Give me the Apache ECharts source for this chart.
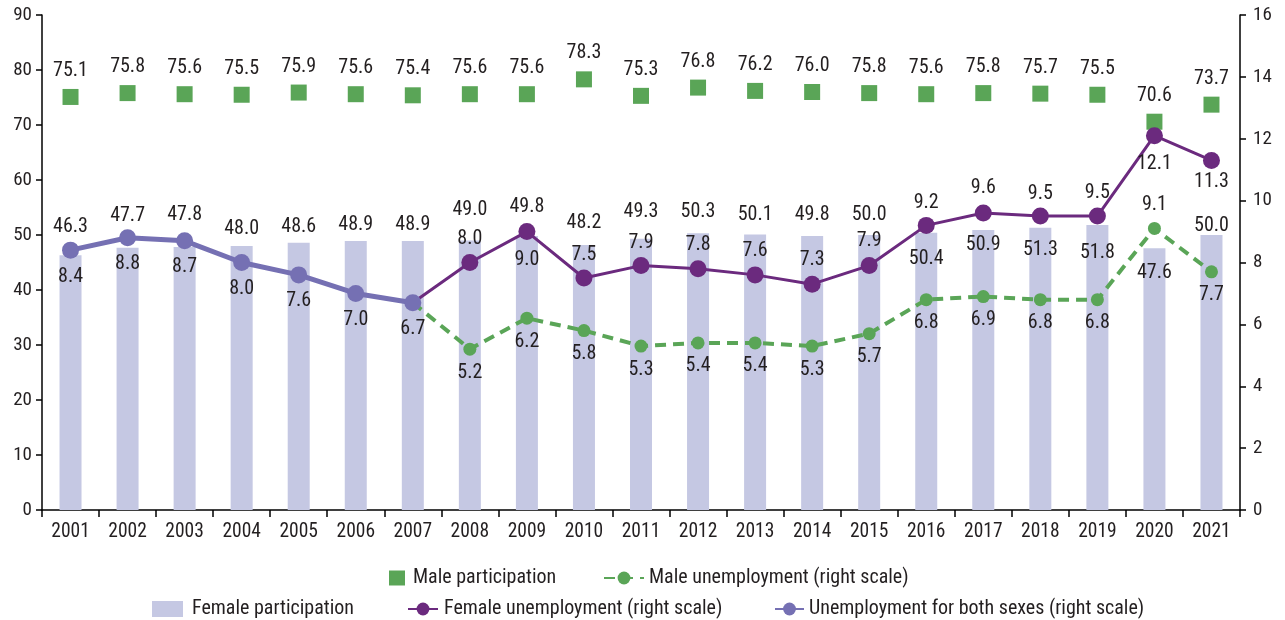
<!DOCTYPE html>
<html><head><meta charset="utf-8">
<script src="https://cdn.jsdelivr.net/npm/echarts@6/dist/echarts.min.js"></script>
<style>html,body{margin:0;padding:0;background:#fff}#c{width:1285px;height:620px}</style>
</head><body><div id="c"></div>
<script>
const years = ['2001','2002','2003','2004','2005','2006','2007','2008','2009','2010','2011','2012','2013','2014','2015','2016','2017','2018','2019','2020','2021'];
const femaleParticipation = [46.3,47.7,47.8,48.0,48.6,48.9,48.9,49.0,49.8,48.2,49.3,50.3,50.1,49.8,50.0,50.4,50.9,51.3,51.8,47.6,50.0];
const maleParticipation = [75.1,75.8,75.6,75.5,75.9,75.6,75.4,75.6,75.6,78.3,75.3,76.8,76.2,76.0,75.8,75.6,75.8,75.7,75.5,70.6,73.7];
const bothUnemployment = [8.4,8.8,8.7,8.0,7.6,7.0,6.7,null,null,null,null,null,null,null,null,null,null,null,null,null,null];
const femaleUnemployment = [null,null,null,null,null,null,6.7,8.0,9.0,7.5,7.9,7.8,7.6,7.3,7.9,9.2,9.6,9.5,9.5,12.1,11.3];
const maleUnemployment = [null,null,null,null,null,null,6.7,5.2,6.2,5.8,5.3,5.4,5.4,5.3,5.7,6.8,6.9,6.8,6.8,9.1,7.7];
const leftTicks = ['0','10','20','30','40','50','60','70','80','90'];
const rightTicks = ['0','2','4','6','8','10','12','14','16'];

// label placement (layout only): bar label centre offset from bar top (px, negative = above)
const barLabelOffset = [-28,-32,-32,-17,-16,-16,-16,-31,-29,-22,-27,-21,-19.5,-21,-20,26,15,22,28,25,-9];
// female unemployment label gap; negative = below the point
const femLabelGap = [0,0,0,0,0,0,0,5,-10,4.5,4,5.5,5.5,5.5,6.5,3.5,6.5,3.5,4.5,-9.5,-3.5];

const FONT = '"Roboto Condensed", "Liberation Sans Narrow", sans-serif';
const TXT = '#231f20';
const C_BAR = '#c5c8e3', C_GREEN = '#5aa557', C_PURPLE = '#6b2a7e', C_BOTH = '#7570b3';

const barLabelData = femaleParticipation.map((v,i)=>({
  value:v,
  label:{offset:[0, barLabelOffset[i]]}
}));
const femData = femaleUnemployment.map((v,i)=>{
  if (i===6) return {value:v, symbolSize:0, label:{show:false}};
  const g = femLabelGap[i];
  return {value:v, label:{position: g<0?'bottom':'top', distance: Math.abs(g)}};
});
const maleData = maleUnemployment.map((v,i)=>{
  if (i===6) return {value:v, symbolSize:0, label:{show:false}};
  return {value:v, label:{position: i===19?'top':'bottom', distance: 7}};
});

const chart = echarts.init(document.getElementById('c'), null, {renderer:'canvas'});
const labelStyle = {show:true, color:TXT, fontFamily:FONT, fontSize:20, formatter:p=>p.value==null?'':Number(p.value).toFixed(1)};
function leg(name, left, top, w, h, icon, padL){
  return {data:[icon?{name:name, icon:icon}:name], left:left, top:top, itemWidth:w, itemHeight:h, itemGap:0, padding:0,
    textStyle:{color:TXT, fontFamily:FONT, fontSize:20, padding:[0,0,0,padL]}, selectedMode:false};
}
chart.setOption({
  animation:false,
  textStyle:{fontFamily:FONT},
  grid:{left:42, right:45, top:15, bottom:110},
  legend:[
    leg('Male participation', 389, 568, 16, 15, 'rect', 3),
    leg('Male unemployment (right scale)', 603, 568, 40, 16, null, 0),
    leg('Female participation', 152, 599, 31, 16, 'rect', 4),
    leg('Female unemployment (right scale)', 407, 599, 30, 16, null, 1),
    leg('Unemployment for both sexes (right scale)', 774, 599, 29, 16, null, 0)
  ],
  xAxis:{type:'category', data:years, boundaryGap:true,
    axisLine:{lineStyle:{color:'#000', width:1.5}},
    axisTick:{show:true, alignWithLabel:false, length:7, lineStyle:{color:'#000', width:1.5}},
    axisLabel:{color:TXT, fontFamily:FONT, fontSize:19.5, margin:12}},
  yAxis:[
    {type:'value', min:0, max:90, interval:10, position:'left',
      axisLine:{show:true, lineStyle:{color:'#000', width:1.5}},
      axisTick:{show:true, length:6, lineStyle:{color:'#000', width:1.5}},
      splitLine:{show:false},
      axisLabel:{color:TXT, fontFamily:FONT, fontSize:19, margin:10, formatter:(v)=>leftTicks[Math.round(v/10)]}},
    {type:'value', min:0, max:16, interval:2, position:'right',
      axisLine:{show:true, lineStyle:{color:'#000', width:1.5}},
      axisTick:{show:true, length:6, lineStyle:{color:'#000', width:1.5}},
      splitLine:{show:false},
      axisLabel:{color:TXT, fontFamily:FONT, fontSize:19, margin:13, formatter:(v)=>rightTicks[Math.round(v/2)]}}
  ],
  series:[
    {name:'Female participation', type:'bar', yAxisIndex:0, data:femaleParticipation, barWidth:22,
      itemStyle:{color:C_BAR}, label:{show:false}, z:1},
    {name:'Female participation values', type:'scatter', yAxisIndex:0, data:barLabelData,
      symbol:'circle', symbolSize:1, itemStyle:{color:'rgba(255,255,255,0)', opacity:1}, silent:true, z:2,
      label:Object.assign({}, labelStyle, {position:'inside'})},
    {name:'Male participation', type:'scatter', yAxisIndex:0, data:maleParticipation,
      symbol:'rect', symbolSize:16, itemStyle:{color:C_GREEN, opacity:1}, z:3,
      label:Object.assign({}, labelStyle, {position:'top', distance:8})},
    {name:'Male unemployment (right scale)', type:'line', yAxisIndex:1, data:maleData,
      symbol:'circle', symbolSize:13, lineStyle:{color:C_GREEN, width:4, type:[11,7]},
      itemStyle:{color:C_GREEN}, label:labelStyle, z:4},
    {name:'Female unemployment (right scale)', type:'line', yAxisIndex:1, data:femData,
      symbol:'circle', symbolSize:17, lineStyle:{color:C_PURPLE, width:3},
      itemStyle:{color:C_PURPLE}, label:labelStyle, z:5},
    {name:'Unemployment for both sexes (right scale)', type:'line', yAxisIndex:1, data:bothUnemployment,
      symbol:'circle', symbolSize:17, lineStyle:{color:C_BOTH, width:5},
      itemStyle:{color:C_BOTH}, label:Object.assign({}, labelStyle, {position:'bottom', distance:8}), z:6}
  ]
});
</script></body></html>
